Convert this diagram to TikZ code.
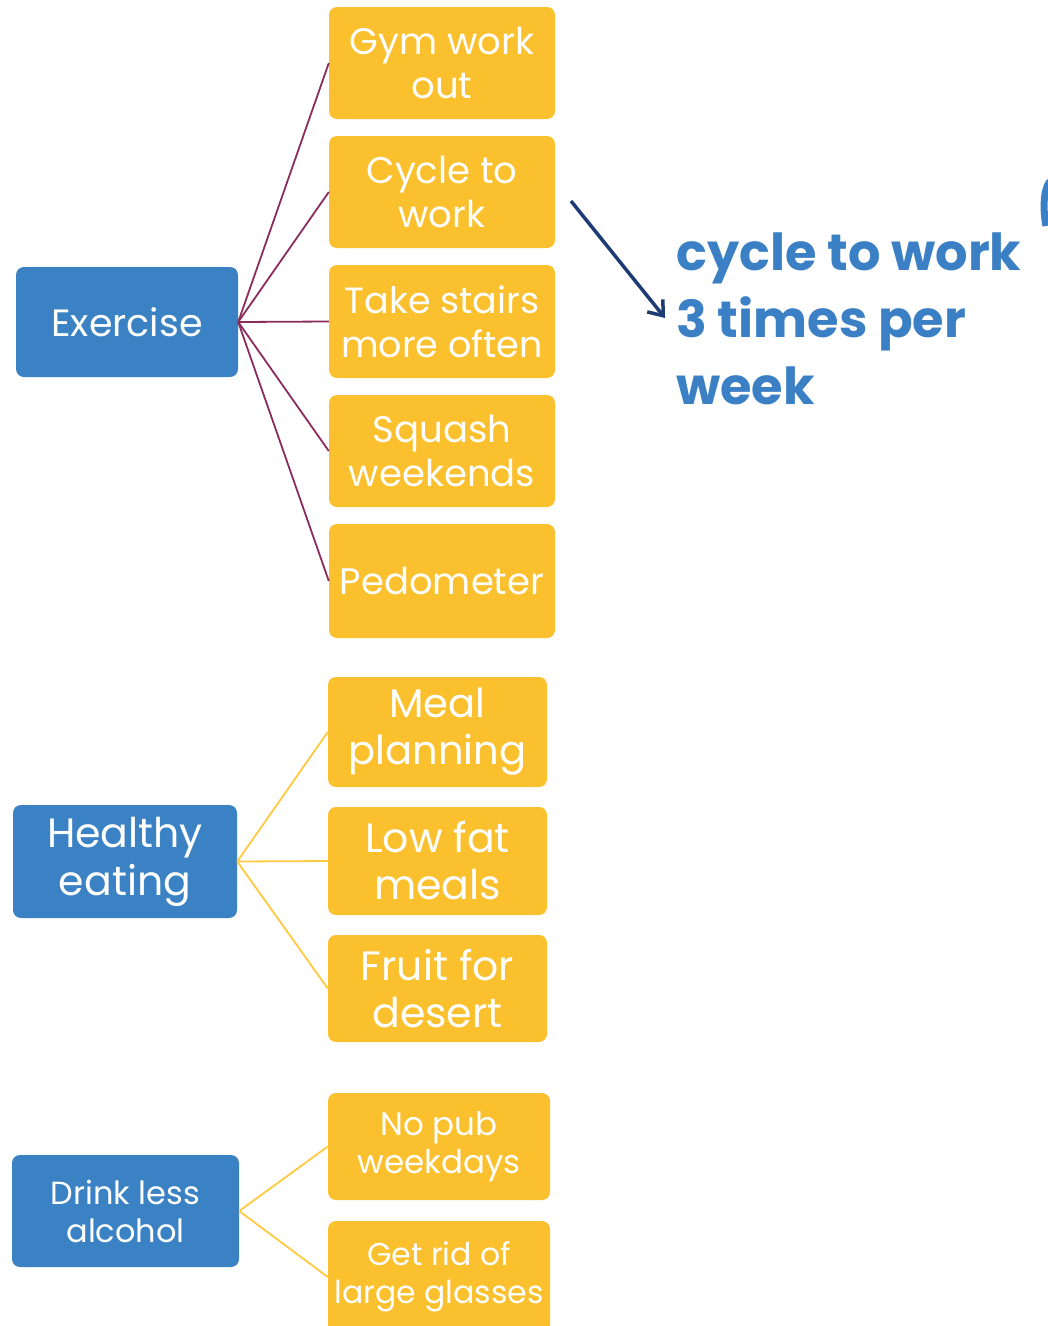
\documentclass[tikz,border=0pt]{standalone}
\usepackage{fontspec}
\usetikzlibrary{arrows.meta}
\setmainfont{Poppins}
\definecolor{ybox}{HTML}{FBC02D}
\definecolor{bbox}{HTML}{3A82C4}
\definecolor{purp}{HTML}{8B2C5E}
\definecolor{ylin}{HTML}{FFC940}
\definecolor{navy}{HTML}{1F3B73}
\definecolor{tblue}{HTML}{3B7FC4}
\tikzset{
  yitem/.style={fill=ybox, rounded corners=8pt, text=white, align=center, inner sep=0pt, minimum width=226pt, minimum height=112pt},
  bitem/.style={fill=bbox, rounded corners=8pt, text=white, align=center, inner sep=0pt, minimum width=223pt, minimum height=110pt},
  exlink/.style={draw=purp, line width=1.8pt},
  ylink/.style={draw=ylin, line width=1.8pt},
}
\newcommand{\fs}[2]{\fontsize{#1}{#2}\selectfont}
\begin{document}
\begin{tikzpicture}[x=1pt,y=-1pt]
\useasboundingbox (0,0) rectangle (1048,1326);
% Exercise group
\node[bitem, minimum width=222pt, minimum height=110pt, font=\fs{38}{44}] (ex) at (127,322) {Exercise};
\node[yitem, font=\fs{37}{44}] (gym) at (442,63) {Gym work\\out};
\node[yitem, font=\fs{37}{44}] (cyc) at (442,192) {Cycle to\\work};
\node[yitem, minimum height=113pt, font=\fs{36.5}{44}] (tak) at (442,321.5) {Take stairs\\more often};
\node[yitem, font=\fs{37}{44}] (squ) at (442,451) {Squash\\weekends};
\node[yitem, minimum height=114pt, font=\fs{37}{44}] (ped) at (442,581) {Pedometer};
\foreach \t in {gym,cyc,tak,squ,ped} \draw[exlink] (ex.east) -- (\t.west);
% Healthy eating
\node[bitem, minimum width=224pt, minimum height=113pt, font=\fs{41}{48}] (he) at (125,861.5) {Healthy\\eating};
\node[yitem, minimum width=219pt, minimum height=110pt, font=\fs{40}{47}] (mea) at (437.5,732) {Meal\\planning};
\node[yitem, minimum width=219pt, minimum height=108pt, font=\fs{41}{47}] (low) at (437.5,861) {Low fat\\meals};
\node[yitem, minimum width=219pt, minimum height=107pt, font=\fs{41}{47}] (fru) at (437.5,988.5) {Fruit for\\desert};
\foreach \t in {mea,low,fru} \draw[ylink] (he.east) -- (\t.west);
% Drink less alcohol
\node[bitem, minimum width=227pt, minimum height=112pt, font=\fs{32}{38}] (dr) at (125.5,1211) {Drink less\\alcohol};
\node[yitem, minimum width=222pt, minimum height=107pt, font=\fs{32.5}{38}] (pub) at (439,1146.5) {No pub\\weekdays};
\node[yitem, minimum width=222pt, minimum height=112pt, font=\fs{31.5}{38}] (gla) at (439,1277) {Get rid of\\large glasses};
\foreach \t in {pub,gla} \draw[ylink] (dr.east) -- (\t.west);
% Annotation
\coordinate (as) at (571,201);
\coordinate (ae) at (665,318);
\node[anchor=base west, inner sep=0pt, text=tblue, align=left, font=\fs{51}{67}\bfseries] (note) at (676,404) {cycle to work\\3 times per\\week};
\draw[navy, line width=3.5pt, -{Straight Barb[length=13pt,width=20pt]}] (as) -- (ae);
% cut-off fragment at the right edge
\draw[tblue, line width=7pt] (1050,181) .. controls (1043,190) and (1043,210) .. (1046,226);
\end{tikzpicture}
\end{document}
